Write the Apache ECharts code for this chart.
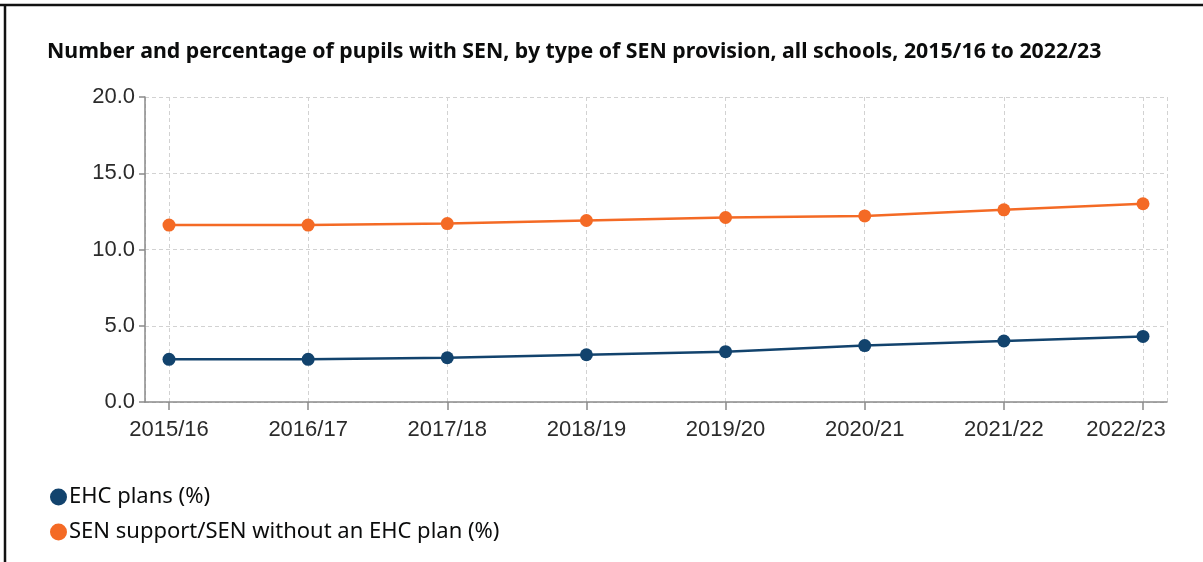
<!DOCTYPE html>
<html>
<head>
<meta charset="utf-8">
<style>
  html, body { margin: 0; padding: 0; background: #ffffff; }
  #chart { width: 1203px; height: 562px; }
</style>
<script src="https://cdn.jsdelivr.net/npm/echarts@6/dist/echarts.min.js"></script>
</head>
<body>
<div id="chart"></div>
<script>
// School years on the x axis
const years = ['2015/16', '2016/17', '2017/18', '2018/19', '2019/20', '2020/21', '2021/22', '2022/23'];
// Pupils with an education, health and care plan, % of all pupils
const ehcPlans = [2.8, 2.8, 2.9, 3.1, 3.3, 3.7, 4.0, 4.3];
// Pupils on SEN support / SEN without an EHC plan, % of all pupils
const senSupport = [11.6, 11.6, 11.7, 11.9, 12.1, 12.2, 12.6, 13.0];
// Percentage axis range and step
const yMin = 0, yMax = 20, yStep = 5;

const titleText = 'Number and percentage of pupils with SEN, by type of SEN provision, all schools, 2015/16 to 2022/23';
const blue = '#12436d';
const orange = '#f46a25';
const gridColor = '#d2d2d2';
const axisColor = '#8a8a8a';
const labelFont = { fontFamily: 'Liberation Sans, Arial, sans-serif', fontSize: 22, color: '#2b2b2b' };
const textFont = 'Noto Sans, Lato, sans-serif';

const chart = echarts.init(document.getElementById('chart'), null, { renderer: 'canvas' });

chart.setOption({
  animation: false,
  backgroundColor: '#ffffff',
  title: {
    text: titleText,
    left: 42,
    top: 36,
    textStyle: { fontFamily: textFont, fontWeight: 'bold', fontSize: 21.3, color: '#0b0c0c' }
  },
  legend: {
    orient: 'vertical',
    left: 45,
    top: 481,
    itemGap: 13,
    itemWidth: 17,
    itemHeight: 17,
    icon: 'circle',
    textStyle: { fontFamily: textFont, fontSize: 22, color: '#0b0c0c', padding: [0, 0, 0, -3] },
    data: ['EHC plans (%)', 'SEN support/SEN without an EHC plan (%)']
  },
  graphic: [
    { type: 'line', shape: { x1: 0, y1: 5, x2: 1203, y2: 5 }, style: { stroke: '#111', lineWidth: 2.5 } },
    { type: 'line', shape: { x1: 5, y1: 4, x2: 5, y2: 562 }, style: { stroke: '#111', lineWidth: 2.5 } }
  ],
  grid: [
    // full plotting frame: y axis, baseline and outer dashed border
    { left: 145, right: 36, top: 97, bottom: 160, containLabel: false },
    // data area: categories sit inset from the frame edges
    { left: 169, right: 60, top: 97, bottom: 160, containLabel: false }
  ],
  xAxis: [
    {
      gridIndex: 0, type: 'value', min: 0, max: 1, interval: 1,
      axisLine: { show: true, onZero: false, lineStyle: { color: axisColor, width: 1.5 } },
      axisTick: { show: false },
      axisLabel: { show: false },
      splitLine: { show: true, lineStyle: { color: gridColor, type: [4, 3], width: 1 } }
    },
    {
      gridIndex: 1, type: 'category', data: years, boundaryGap: false,
      axisLine: { show: false },
      axisTick: { show: true, interval: 0, length: 8, lineStyle: { color: axisColor, width: 1.5 } },
      axisLabel: Object.assign({
        interval: 0,
        hideOverlap: false,
        margin: 17,
        // the final year label is pulled in so it ends at the frame edge
        formatter: (v, i) => i === years.length - 1 ? '{last|' + v + '}' : v,
        rich: { last: Object.assign({ padding: [0, 34, 0, 0] }, labelFont) }
      }, labelFont),
      splitLine: { show: true, interval: 0, lineStyle: { color: gridColor, type: [4, 3], width: 1 } }
    }
  ],
  yAxis: [
    {
      gridIndex: 0, type: 'value', min: yMin, max: yMax, interval: yStep,
      axisLine: { show: true, lineStyle: { color: axisColor, width: 1.5 } },
      axisTick: { show: true, length: 6, lineStyle: { color: axisColor, width: 1.5 } },
      axisLabel: Object.assign({ margin: 10, formatter: v => v.toFixed(1) }, labelFont),
      splitLine: { show: true, lineStyle: { color: gridColor, type: [4, 3], width: 1 } }
    },
    {
      gridIndex: 1, type: 'value', min: yMin, max: yMax, interval: yStep,
      axisLine: { show: false }, axisTick: { show: false }, axisLabel: { show: false },
      splitLine: { show: false }
    }
  ],
  series: [
    {
      name: 'EHC plans (%)', type: 'line', xAxisIndex: 1, yAxisIndex: 1,
      data: ehcPlans, color: blue,
      symbol: 'circle', symbolSize: 13,
      lineStyle: { width: 2.5, color: blue },
      itemStyle: { color: blue }
    },
    {
      name: 'SEN support/SEN without an EHC plan (%)', type: 'line', xAxisIndex: 1, yAxisIndex: 1,
      data: senSupport, color: orange,
      symbol: 'circle', symbolSize: 13,
      lineStyle: { width: 2.5, color: orange },
      itemStyle: { color: orange }
    }
  ]
});
</script>
</body>
</html>
